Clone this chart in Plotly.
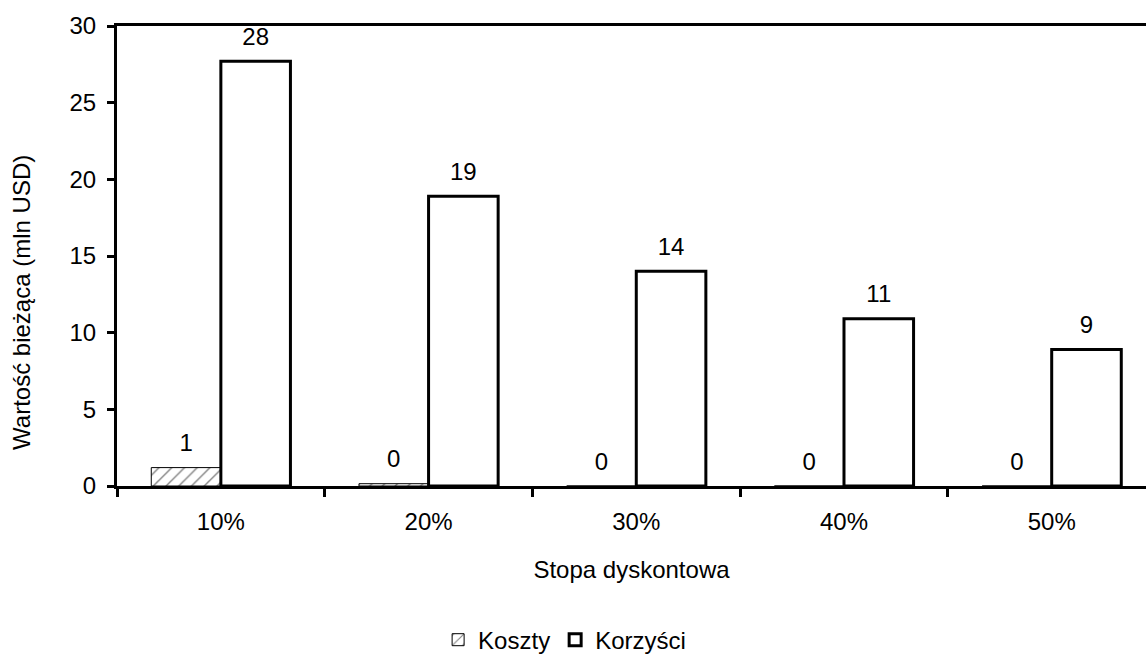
import plotly.graph_objects as go

# Present value of costs and benefits by discount rate (mln USD)
stopy = ["10%", "20%", "30%", "40%", "50%"]
koszty = [1.2, 0.15, 0.0, 0.0, 0.0]
korzysci = [27.7, 18.9, 14.0, 10.9, 8.9]
y_ticks = [0, 5, 10, 15, 20, 25, 30]

FONT = "Liberation Sans, Arial, sans-serif"
FS = 24
GAP = 0.33

fig = go.Figure()
fig.add_trace(go.Bar(
    x=stopy, y=koszty, name="Koszty",
    marker=dict(color="white", line=dict(color="black", width=1),
                pattern=dict(shape="/", fgcolor="black", bgcolor="white",
                             size=9, solidity=0.15)),
))
fig.add_trace(go.Bar(
    x=stopy, y=korzysci, name="Korzyści",
    marker=dict(color="white", line=dict(color="black", width=3)),
))

# value labels above the bars, grouped the same way as the bars
for vals in (koszty, korzysci):
    fig.add_trace(go.Scatter(
        x=stopy, y=vals, mode="markers+text",
        texttemplate="%{y:.0f}", textposition="top center",
        textfont=dict(size=FS, color="black", family=FONT),
        marker=dict(size=15, color="rgba(0,0,0,0)"),
        showlegend=False, hoverinfo="skip", cliponaxis=False,
    ))

fig.update_layout(
    width=1146, height=654,
    margin=dict(l=117, r=0, t=26, b=168, autoexpand=False),
    paper_bgcolor="white", plot_bgcolor="white",
    barmode="group", bargap=GAP, bargroupgap=0,
    scattermode="group", scattergap=GAP,
    font=dict(family=FONT, color="black", size=FS),
    showlegend=True,
    legend=dict(orientation="h", x=0.435, xanchor="center",
                y=-0.335, yanchor="middle",
                font=dict(size=FS), itemwidth=30,
                traceorder="normal"),
    annotations=[dict(
        text="Wartość bieżąca (mln USD)", textangle=-90,
        xref="paper", yref="paper", x=-0.0923, y=0.398,
        xanchor="center", yanchor="middle", showarrow=False,
        font=dict(size=FS),
    )],
)
fig.update_xaxes(
    range=[-0.5, 4.454],
    showline=True, linecolor="black", linewidth=3, mirror=True,
    ticks="outside", tickson="boundaries", ticklen=8, tickwidth=3,
    tickcolor="black", showgrid=False,
    tickfont=dict(size=FS), ticklabelstandoff=12,
    title=dict(text="Stopa dyskontowa", font=dict(size=FS), standoff=28),
)
fig.update_yaxes(
    range=[0, 30], tickvals=y_ticks,
    showline=True, linecolor="black", linewidth=3,
    ticks="outside", ticklen=7, tickwidth=3, tickcolor="black",
    showgrid=False, zeroline=False,
    tickfont=dict(size=FS), ticklabelstandoff=6,
)

fig.write_html("out.html")
